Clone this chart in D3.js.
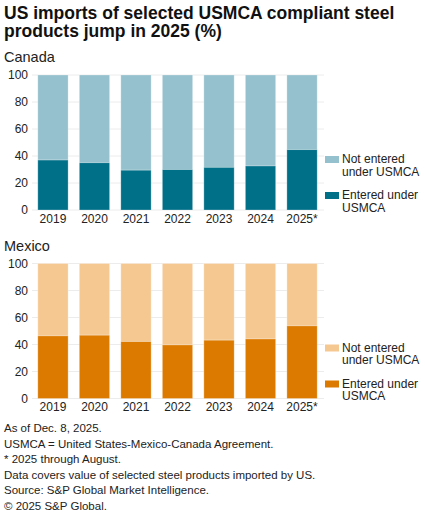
<!DOCTYPE html>
<html>
<head>
<meta charset="utf-8">
<script src="https://cdn.jsdelivr.net/npm/d3@7"></script>
<style>
  body { margin: 0; background: #fff; }
  svg { display: block; font-family: "Liberation Sans", Arial, sans-serif; }
</style>
</head>
<body>
<div id="chart"></div>
<script>
// data
const years = ['2019', '2020', '2021', '2022', '2023', '2024', '2025*']
const canadaEntered = [37, 35, 29.5, 30, 31.6, 32.6, 44.7]
const mexicoEntered = [46.4, 46.9, 42.2, 39.7, 43.2, 44.1, 53.8]
const yTicks = [0, 20, 40, 60, 80, 100]
const legendLabels = [['Not entered', 'under USMCA'], ['Entered under', 'USMCA']]
const notes = [
  'As of Dec. 8, 2025.',
  'USMCA = United States-Mexico-Canada Agreement.',
  '* 2025 through August.',
  'Data covers value of selected steel products imported by US.',
  'Source: S&P Global Market Intelligence.',
  '\u00a9 2025 S&P Global.'
]

const width = 425, height = 516
const svg = d3.select('#chart').append('svg')
  .attr('width', width).attr('height', height)

// title, two lines
svg.selectAll('.title')
  .data(['US imports of selected USMCA compliant steel', 'products jump in 2025 (%)'])
  .join('text')
  .attr('x', 4).attr('y', (d, i) => 19 + i * 18)
  .style('font-size', '17.5px').style('font-weight', 'bold').style('fill', '#111')
  .text(d => d)

const x = d3.scaleBand()
  .domain(years)
  .range([32, 323])
  .paddingInner(0.27)
  .paddingOuter(0.14)

function panel(name, entered, top, bottom, dark, light) {
  const y = d3.scaleLinear().domain([0, 100]).range([bottom, top])
  const g = svg.append('g')

  g.append('text')
    .attr('x', 4).attr('y', top - 13)
    .style('font-size', '14.5px').style('fill', '#222')
    .text(name)

  // gridlines
  g.selectAll('.grid')
    .data(yTicks)
    .join('line')
    .attr('x1', 32).attr('x2', 324)
    .attr('y1', d => y(d)).attr('y2', d => y(d))
    .attr('stroke', '#ececec').attr('stroke-width', 1)

  // y axis
  g.append('g')
    .attr('transform', 'translate(28,0)')
    .call(d3.axisLeft(y).tickValues(yTicks).tickSize(0).tickPadding(0))
    .call(a => a.select('.domain').remove())
    .selectAll('text')
    .style('font-family', '"Liberation Sans", Arial, sans-serif')
    .style('font-size', '12px').style('fill', '#222')

  // x axis
  g.append('g')
    .attr('transform', `translate(0,${bottom})`)
    .call(d3.axisBottom(x).tickSize(0).tickPadding(4))
    .call(a => a.select('.domain').remove())
    .selectAll('text')
    .style('font-family', '"Liberation Sans", Arial, sans-serif')
    .style('font-size', '12px').style('fill', '#222')

  const rows = years.map((yr, i) => ({ yr, v: entered[i] }))

  // not entered (top part)
  g.selectAll('.top')
    .data(rows)
    .join('rect')
    .attr('x', d => x(d.yr))
    .attr('width', x.bandwidth())
    .attr('y', y(100))
    .attr('height', d => y(d.v) - y(100))
    .attr('fill', light)
    .attr('stroke', 'rgba(255,255,255,0.35)').attr('stroke-width', 0.8)

  // entered
  g.selectAll('.bot')
    .data(rows)
    .join('rect')
    .attr('x', d => x(d.yr))
    .attr('width', x.bandwidth())
    .attr('y', d => y(d.v))
    .attr('height', d => y(0) - y(d.v))
    .attr('fill', dark)
    .attr('stroke', 'rgba(255,255,255,0.35)').attr('stroke-width', 0.8)

  // legend
  const leg = g.selectAll('.leg')
    .data(legendLabels)
    .join('g')
    .attr('transform', (d, i) => `translate(325,${bottom - 54 + i * 36})`)
  leg.append('rect')
    .attr('width', 14).attr('height', 7)
    .attr('fill', (d, i) => i ? dark : light)
  leg.append('text')
    .style('font-size', '12px').style('fill', '#222')
    .selectAll('tspan')
    .data(d => d)
    .join('tspan')
    .attr('x', 17).attr('y', (d, i) => 7 + i * 12.5)
    .text(d => d)
}

panel('Canada', canadaEntered, 75, 210, '#006f88', '#94c1cd')
panel('Mexico', mexicoEntered, 263.5, 398.5, '#dc7a00', '#f5c892')

// footnotes
svg.append('g')
  .selectAll('text')
  .data(notes)
  .join('text')
  .attr('x', 4)
  .attr('y', (d, i) => 432 + i * 15.5)
  .style('font-size', '11.5px').style('fill', '#222')
  .text(d => d)
</script>
</body>
</html>
